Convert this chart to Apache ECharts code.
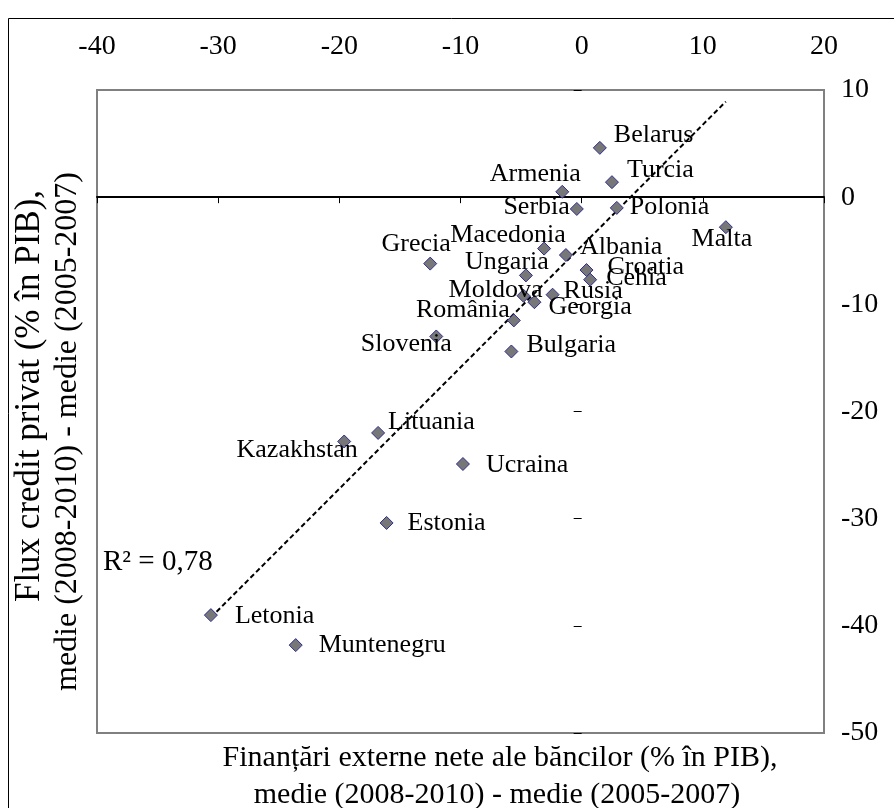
<!DOCTYPE html>
<html>
<head>
<meta charset="utf-8">
<script src="https://cdn.jsdelivr.net/npm/echarts@6/dist/echarts.min.js"></script>
<style>
html,body{margin:0;padding:0;background:#fff;}
#chart{width:894px;height:808px;}
</style>
</head>
<body>
<div id="chart"></div>
<script>
// ---- data ----
const countries = ['Belarus','Turcia','Armenia','Serbia','Polonia','Malta','Grecia','Macedonia','Albania','Ungaria','Croatia','Cehia','Moldova','Rusia','Georgia','România','Slovenia','Bulgaria','Lituania','Kazakhstan','Ucraina','Estonia','Letonia','Muntenegru'];
const extFinancing = [1.5, 2.5, -1.6, -0.4, 2.9, 11.9, -12.5, -3.1, -1.3, -4.6, 0.4, 0.7, -4.8, -2.4, -3.9, -5.6, -12.0, -5.8, -16.8, -19.6, -9.8, -16.1, -30.6, -23.6];
const creditFlow = [4.6, 1.4, 0.5, -1.1, -1.0, -2.8, -6.2, -4.8, -5.4, -7.3, -6.8, -7.7, -9.2, -9.1, -9.8, -11.5, -13.0, -14.4, -22.0, -22.8, -24.9, -30.4, -39.0, -41.8];
const xTicks = [-40, -30, -20, -10, 0, 10, 20];
const yTicks = [-50, -40, -30, -20, -10, 0, 10];
const rSquaredText = 'R\u00B2 = 0,78';
const xTitleLines = ['Finanțări externe nete ale băncilor (% în PIB),', 'medie (2008-2010) - medie (2005-2007)'];
const yTitleLines = ['Flux credit privat (% în PIB),', 'medie (2008-2010) - medie (2005-2007)'];

// ---- label placement (style) ----
const labelPlacement = {
  'Belarus': ['right', 2, -13], 'Turcia': ['right', 3, -12], 'Armenia': ['inside', -27, -18],
  'Serbia': ['left', 5, -2], 'Polonia': ['right', 1, -1], 'Malta': ['inside', -4, 12],
  'Grecia': ['inside', -14, -19], 'Macedonia': ['inside', -36, -13], 'Albania': ['right', 2, -8],
  'Ungaria': ['inside', -19, -13], 'Croatia': ['right', 9, -3], 'Cehia': ['right', 4, -2],
  'Moldova': ['inside', -28, -6], 'Rusia': ['right', -1, -4], 'Georgia': ['right', 2, 5],
  'România': ['left', 8, -10], 'Slovenia': ['inside', -30, 8], 'Bulgaria': ['right', 3, -6],
  'Lituania': ['right', -2, -11], 'Kazakhstan': ['inside', -47, 9], 'Ucraina': ['right', 11, 1],
  'Estonia': ['right', 9, 0], 'Letonia': ['right', 12, 1], 'Muntenegru': ['right', 11, 0]
};

// ---- linear regression (trendline) ----
const n = extFinancing.length;
const mx = extFinancing.reduce((a, b) => a + b, 0) / n;
const my = creditFlow.reduce((a, b) => a + b, 0) / n;
let sxy = 0, sxx = 0;
for (let i = 0; i < n; i++) { sxy += (extFinancing[i] - mx) * (creditFlow[i] - my); sxx += (extFinancing[i] - mx) ** 2; }
const slope = sxy / sxx;
const intercept = my - slope * mx;
const xMin = Math.min(...extFinancing), xMax = Math.max(...extFinancing);
const trend = [[xMin, intercept + slope * xMin], [xMax, intercept + slope * xMax]];

const FONT = '"Liberation Serif", "Times New Roman", serif';

const scatterData = countries.map((c, i) => {
  const p = labelPlacement[c];
  return {
    name: c,
    value: [extFinancing[i], creditFlow[i]],
    label: { position: p[0], offset: [p[1], p[2]] }
  };
});

const chart = echarts.init(document.getElementById('chart'), null, { renderer: 'canvas' });
chart.setOption({
  animation: false,
  backgroundColor: '#ffffff',
  grid: { left: 97, right: 70, top: 90, bottom: 75, show: true, borderColor: '#808080', borderWidth: 2, backgroundColor: 'transparent' },
  xAxis: [
    {
      type: 'value', min: xTicks[0], max: xTicks[xTicks.length - 1], interval: 10, position: 'bottom',
      axisLine: { show: true, onZero: true, lineStyle: { color: '#000', width: 2 } },
      axisTick: { show: true, length: 6, lineStyle: { color: '#000', width: 1 } },
      axisLabel: { show: false }, splitLine: { show: false }
    },
    {
      type: 'value', min: xTicks[0], max: xTicks[xTicks.length - 1], interval: 10, position: 'top',
      axisLine: { show: false, onZero: false }, axisTick: { show: false },
      axisLabel: { show: true, margin: 29, color: '#000', fontFamily: FONT, fontSize: 28 },
      splitLine: { show: false }
    }
  ],
  yAxis: [
    {
      type: 'value', min: yTicks[0], max: yTicks[yTicks.length - 1], interval: 10, position: 'left',
      axisLine: { show: true, onZero: true, lineStyle: { color: 'rgba(0,0,0,0)', width: 0 } },
      axisTick: { show: true, length: 8, lineStyle: { color: '#000', width: 1 } },
      axisLabel: { show: false }, splitLine: { show: false }
    },
    {
      type: 'value', min: yTicks[0], max: yTicks[yTicks.length - 1], interval: 10, position: 'right',
      axisLine: { show: false, onZero: false }, axisTick: { show: false },
      axisLabel: { show: true, margin: 17, color: '#000', fontFamily: FONT, fontSize: 28 },
      splitLine: { show: false }
    }
  ],
  series: [
    {
      type: 'line', data: trend, xAxisIndex: 0, yAxisIndex: 0, symbol: 'none', silent: true, z: 2,
      lineStyle: { color: '#000', width: 2, type: [5, 3] }
    },
    {
      type: 'scatter', data: scatterData, xAxisIndex: 0, yAxisIndex: 0, symbol: 'diamond', symbolSize: 13, z: 3,
      itemStyle: { color: '#777777', borderColor: '#2e2e8f', borderWidth: 1, opacity: 1 },
      label: { show: true, formatter: '{b}', color: '#000', fontFamily: FONT, fontSize: 26, distance: 5 }
    }
  ],
  graphic: [
    { type: 'rect', z: 100, shape: { x: 8.5, y: 18.5, width: 1000, height: 1000 }, style: { fill: 'none', stroke: '#000', lineWidth: 1 } },
    { type: 'text', z: 100, x: 103, y: 562, style: { text: rSquaredText, font: '29px ' + FONT, fill: '#000', align: 'left', verticalAlign: 'middle' } },
    { type: 'text', z: 100, x: 500, y: 758, style: { text: xTitleLines[0], font: '30px ' + FONT, fill: '#000', align: 'center', verticalAlign: 'middle' } },
    { type: 'text', z: 100, x: 497, y: 795, style: { text: xTitleLines[1], font: '30px ' + FONT, fill: '#000', align: 'center', verticalAlign: 'middle' } },
    { type: 'text', z: 100, x: 30, y: 396, rotation: Math.PI / 2, style: { text: yTitleLines[0], font: '35px ' + FONT, fill: '#000', align: 'center', verticalAlign: 'middle' } },
    { type: 'text', z: 100, x: 68, y: 172, rotation: Math.PI / 2, style: { text: yTitleLines[1], font: '32px ' + FONT, fill: '#000', align: 'right', verticalAlign: 'middle' } }
  ]
});
</script>
</body>
</html>
